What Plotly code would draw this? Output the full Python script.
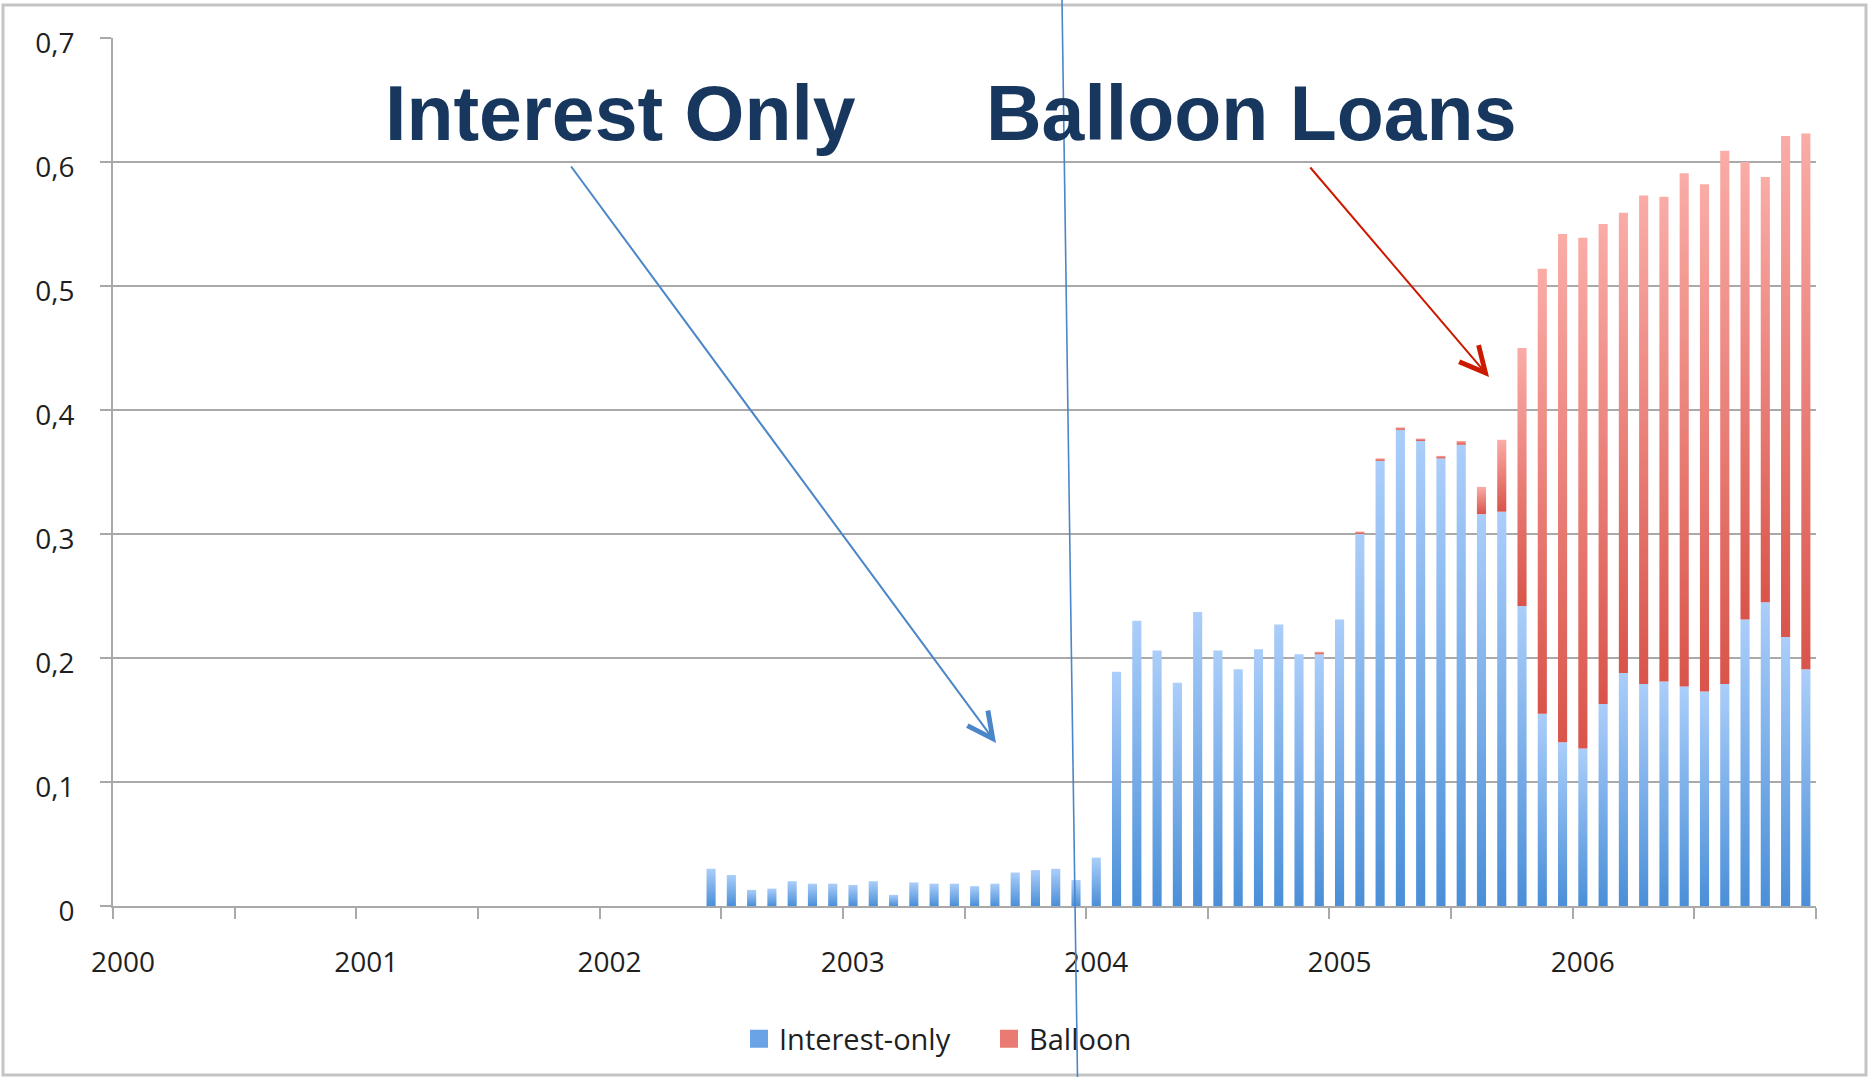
import pandas as pd
import plotly.graph_objects as go

# Monthly share of new loans, June 2002 - December 2006
months = [p.strftime("%Y-%m") for p in pd.period_range("2002-06", "2006-12", freq="M")]

interest_only = [
    0.030, 0.025, 0.013, 0.014, 0.020, 0.018, 0.018,                        # 2002 Jun-Dec
    0.017, 0.020, 0.009, 0.019, 0.018, 0.018, 0.016, 0.018, 0.027, 0.029, 0.030, 0.021,  # 2003
    0.039, 0.189, 0.230, 0.206, 0.180, 0.237, 0.206, 0.191, 0.207, 0.227, 0.203, 0.203,  # 2004
    0.231, 0.300, 0.359, 0.384, 0.375, 0.361, 0.372, 0.316, 0.318, 0.242, 0.155, 0.132,  # 2005
    0.127, 0.163, 0.188, 0.179, 0.181, 0.177, 0.173, 0.179, 0.231, 0.245, 0.217, 0.191,  # 2006
]
balloon = [
    0, 0, 0, 0, 0, 0, 0,
    0, 0, 0, 0, 0, 0, 0, 0, 0, 0, 0, 0,
    0, 0, 0, 0, 0, 0, 0, 0, 0, 0, 0, 0.002,
    0, 0.002, 0.002, 0.002, 0.002, 0.002, 0.003, 0.022, 0.058, 0.208, 0.359, 0.410,
    0.412, 0.387, 0.371, 0.394, 0.391, 0.414, 0.409, 0.430, 0.369, 0.343, 0.404, 0.432,
]

year_ticks = [2000, 2000.5, 2001, 2001.5, 2002, 2002.5, 2003, 2003.5, 2004,
              2004.5, 2005, 2005.5, 2006, 2006.5, 2007]
year_labels = ["2000", "", "2001", "", "2002", "", "2003", "", "2004",
               "", "2005", "", "2006", "", ""]

# page geometry (pixels)
W, H = 1869, 1077
ML, MR, MT, MB = 113, 53, 38, 171
PL, PR, PT, PB = ML, W - MR, MT, H - MB


def fx(p):
    return (p - PL) / (PR - PL)


def fy(p):
    return (PB - p) / (PB - PT)


BLUE_SCALE = [[0, "#4a8fd8"], [1, "#abcefa"]]
RED_SCALE = [[0, "#d9544a"], [1, "#faaca7"]]
BAR_W = 0.45 / 12  # bar width in years


def month_center(m):
    y, mo = m.split("-")
    return int(y) + (int(mo) - 0.5) / 12


def bar_trace(xc, y0, y1, scale):
    x0, x1 = xc - BAR_W / 2, xc + BAR_W / 2
    return go.Scatter(
        x=[x0, x1, x1, x0, x0], y=[y0, y0, y1, y1, y0],
        mode="lines", fill="toself", line=dict(width=0),
        fillgradient=dict(type="vertical", colorscale=scale),
        showlegend=False, hoverinfo="skip",
    )


fig = go.Figure()
for m, io, bl in zip(months, interest_only, balloon):
    xc = month_center(m)
    fig.add_trace(bar_trace(xc, 0, io, BLUE_SCALE))
    if bl > 0:
        fig.add_trace(bar_trace(xc, io, io + bl, RED_SCALE))

# legend entries
for name, col in [("Interest-only", "#6aa3e6"), ("Balloon", "#ea7b72")]:
    fig.add_trace(go.Scatter(
        x=[None], y=[None], mode="markers", name=name,
        marker=dict(symbol="square", size=16, color=col, line=dict(width=2, color=col)),
    ))

GRID = "#a9a9a9"
TICKFONT = dict(family="Open Sans", size=28, color="#1f1f1f")

fig.update_layout(
    width=W, height=H,
    margin=dict(l=ML, r=MR, t=MT, b=MB),
    paper_bgcolor="white", plot_bgcolor="white",
    separators=",.",
    showlegend=True,
    legend=dict(
        orientation="h", x=fx(739), y=fy(1039), xanchor="left", yanchor="middle",
        font=dict(family="Open Sans", size=29, color="#1f1f1f"),
        bgcolor="rgba(0,0,0,0)", entrywidth=205, itemclick=False,
    ),
    xaxis=dict(
        range=[2000, 2007], tickmode="array", tickvals=year_ticks, ticktext=year_labels,
        ticks="outside", ticklen=11, tickwidth=2, tickcolor=GRID,
        showline=True, linecolor=GRID, linewidth=2,
        showgrid=False, zeroline=False, tickfont=TICKFONT,
        ticklabelshift=10, ticklabelstandoff=19,
    ),
    yaxis=dict(
        range=[0, 0.7], tick0=0, dtick=0.1,
        ticks="outside", ticklen=11, tickwidth=2, tickcolor=GRID,
        showline=True, linecolor=GRID, linewidth=2,
        showgrid=True, gridcolor=GRID, gridwidth=2, zeroline=False,
        tickfont=TICKFONT, ticklabelstandoff=20, ticklabelshift=5,
    ),
)

TITLE_FONT = dict(family="Liberation Sans", size=77, color="#17375e", weight="bold")
fig.add_annotation(text="Interest Only", xref="paper", yref="paper", x=fx(620), y=fy(113),
                   xanchor="center", yanchor="middle", showarrow=False, font=TITLE_FONT)
fig.add_annotation(text="Balloon Loans", xref="paper", yref="paper", x=fx(1251), y=fy(113),
                   xanchor="center", yanchor="middle", showarrow=False, font=TITLE_FONT)

# pointer arrows
fig.add_annotation(text="", xref="paper", yref="paper", x=fx(996), y=fy(743),
                   ax=570 - 996, ay=165 - 743, showarrow=True, arrowhead=5,
                   arrowwidth=2, arrowsize=2.5, arrowcolor="#4a86c8", standoff=0)
fig.add_annotation(text="", xref="paper", yref="paper", x=fx(1489), y=fy(377),
                   ax=1309 - 1489, ay=166 - 377, showarrow=True, arrowhead=5,
                   arrowwidth=2, arrowsize=2.5, arrowcolor="#cc1a00", standoff=0)

# divider line and outer frame
fig.add_shape(type="line", xref="paper", yref="paper",
              x0=fx(1062), y0=fy(0), x1=fx(1077.5), y1=fy(1077),
              line=dict(color="#4a86c8", width=1.6))
fig.add_shape(type="rect", xref="paper", yref="paper",
              x0=fx(3), y0=fy(1075), x1=fx(1866), y1=fy(5),
              line=dict(color="#c4c4c4", width=3), layer="below")

fig.write_html("out.html")
